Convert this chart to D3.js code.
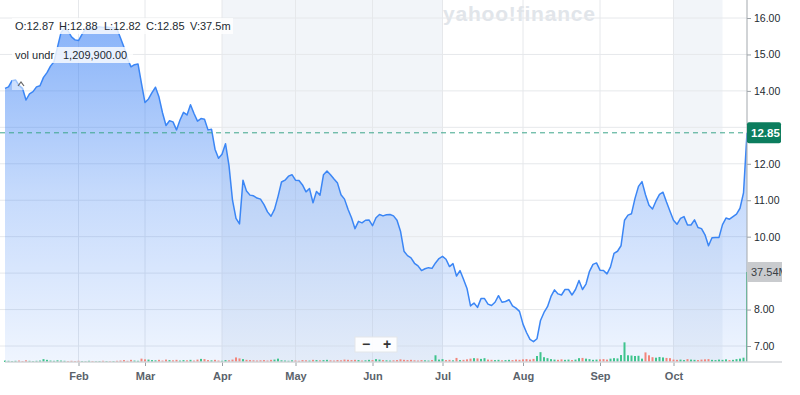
<!DOCTYPE html>
<html>
<head>
<meta charset="utf-8">
<style>
  body { margin: 0; background: #fff; }
  svg { display: block; font-family: "Helvetica Neue", Helvetica, Arial, "Liberation Sans", sans-serif; }
</style>
</head>
<body>
<div id="chart"></div>
<script src="https://cdn.jsdelivr.net/npm/d3@7/dist/d3.min.js"></script>
<script>
// daily closes, one per trading day
var closes = [
  14.07, 14.11, 14.28, 14.30, 14.15, 14.07, 13.75, 13.92, 13.98, 14.11,
  14.14, 14.37, 14.50, 14.68, 14.80, 15.20, 15.60, 15.73, 15.65, 15.48,
  15.40, 15.38, 15.55, 15.70, 15.74, 15.68, 15.74, 15.76, 15.74, 15.75,
  15.74, 15.74, 15.70, 15.45, 15.20, 14.88, 14.66, 14.72, 14.74, 14.20,
  13.68, 13.78, 13.95, 14.10, 13.83, 13.40, 13.05, 13.18, 13.15, 12.93,
  13.20, 13.41, 13.34, 13.62, 13.38, 13.17, 13.24, 13.22, 12.93, 12.95,
  12.40, 12.15, 12.26, 12.55, 11.95, 11.00, 10.50, 10.35, 11.55, 11.25,
  11.14, 11.12, 11.06, 11.03, 10.88, 10.68, 10.56, 10.75, 11.10, 11.50,
  11.55, 11.66, 11.70, 11.55, 11.54, 11.42, 11.23, 11.32, 10.93, 11.24,
  11.14, 11.70, 11.80, 11.70, 11.58, 11.47, 11.15, 11.03, 10.75, 10.52,
  10.22, 10.42, 10.38, 10.45, 10.46, 10.30, 10.52, 10.61, 10.57, 10.60,
  10.61, 10.57, 10.45, 10.15, 9.60, 9.48, 9.42, 9.27, 9.20, 9.07,
  9.12, 9.15, 9.13, 9.28, 9.40, 9.46, 9.38, 9.18, 9.26, 8.92,
  9.07, 8.83, 8.58, 8.10, 8.18, 8.06, 8.30, 8.30, 8.15, 8.11,
  8.20, 8.38, 8.20, 8.22, 8.27, 8.10, 8.04, 7.95, 7.60, 7.37,
  7.18, 7.12, 7.20, 7.70, 7.92, 8.08, 8.36, 8.54, 8.43, 8.40,
  8.55, 8.55, 8.40, 8.55, 8.80, 8.55, 8.70, 9.05, 9.24, 9.28,
  9.08, 9.07, 8.98, 9.17, 9.54, 9.60, 9.75, 10.45, 10.59, 10.63,
  11.05, 11.38, 11.51, 11.15, 10.86, 10.76, 10.98, 11.16, 11.22, 10.95,
  10.70, 10.45, 10.34, 10.50, 10.55, 10.32, 10.32, 10.46, 10.25, 10.22,
  10.05, 9.75, 9.97, 9.98, 9.98, 10.33, 10.51, 10.48, 10.55, 10.62,
  10.78, 11.20, 12.85
];

// daily volume, millions
var volumes = [
  0.6, 0.5, 0.4, 0.5, 0.6, 0.4, 0.7, 0.5, 0.4, 0.5,
  0.6, 1.2, 0.9, 0.6, 0.5, 0.7, 0.6, 0.5, 0.4, 0.5,
  0.4, 0.5, 0.4, 0.3, 0.5, 0.4, 0.3, 0.4, 0.5, 0.4,
  0.3, 0.4, 0.5, 0.6, 0.8, 0.5, 0.9, 0.6, 0.5, 1.4,
  1.1, 1.0, 0.8, 0.7, 0.9, 0.6, 1.0, 0.8, 0.7, 0.9,
  0.6, 0.8, 0.7, 0.9, 0.6, 1.0, 1.3, 1.2, 0.8, 0.7,
  0.9, 0.6, 0.5, 0.8, 0.7, 1.0, 1.9, 1.5, 1.2, 0.9,
  0.8, 0.7, 0.6, 0.7, 0.8, 0.6, 0.9, 1.0, 1.4, 0.7,
  0.6, 0.5, 0.7, 0.6, 0.5, 0.8, 0.7, 0.6, 0.9, 0.8,
  0.7, 0.8, 0.9, 0.7, 0.6, 0.8, 0.7, 1.0, 0.9, 0.8,
  0.9, 0.8, 0.6, 0.7, 0.9, 0.8, 1.2, 1.0, 0.8, 0.7,
  0.6, 0.7, 0.8, 1.1, 0.9, 0.8, 0.9, 0.7, 0.6, 0.8,
  0.7, 0.6, 0.8, 2.8, 1.0, 1.2, 0.8, 0.9, 0.7, 1.7,
  0.8, 0.9, 1.1, 1.4, 1.6, 1.5, 1.3, 1.6, 1.0, 0.9,
  0.8, 0.9, 0.7, 0.8, 0.9, 0.8, 1.0, 0.9, 1.1, 1.2,
  1.0, 1.3, 2.5, 4.1, 2.0, 1.6, 1.2, 1.0, 0.9, 1.1,
  0.9, 1.0, 0.8, 1.0, 1.6, 1.7, 1.4, 1.2, 0.9, 1.0,
  1.1, 1.2, 1.0, 1.4, 1.6, 1.5, 2.9, 8.2, 2.8, 2.7,
  2.5, 2.6, 1.4, 4.0, 2.8, 2.0, 1.8, 2.1, 1.9, 1.7,
  1.6, 1.0, 0.9, 1.0, 0.8, 1.2, 1.0, 0.9, 0.8, 1.0,
  1.1, 1.2, 0.9, 0.8, 1.0, 0.9, 1.1, 0.8, 0.9, 1.2,
  1.4, 1.8, 37.54
];

// first trading day (index) of each month shown on the axis
var monthLabels = ["Feb", "Mar", "Apr", "May", "Jun", "Jul", "Aug", "Sep", "Oct"];
var monthStartDay = [21, 40, 62, 83, 105, 125, 148, 170, 191];
var shadedDays = [[62, 125], [191, 205]];
var priceTicks = [7, 8, 9, 10, 11, 12, 13, 14, 15, 16];

var ohlcLabels = ["O:12.87", "H:12.88", "L:12.82", "C:12.85", "V:37.5m"];
var studyName = "vol undr", studyValue = "1,209,900.00";
var lastPrice = 12.85, lastVolumeLabel = "37.54M";

var width = 800, height = 395;
var plotRight = 747, plotBottom = 362;

var svg = d3.select("#chart").append("svg")
    .attr("width", width)
    .attr("height", height);

var x = d3.scaleLinear().domain([0, closes.length - 1]).range([5, plotRight]);
var y = d3.scaleLinear().domain([7, 16]).range([346, 18]);
var yVol = d3.scaleLinear().domain([0, d3.max(volumes)]).range([plotBottom, 272]);
var lastVol = volumes[volumes.length - 1];

var defs = svg.append("defs");
var grad = defs.append("linearGradient")
    .attr("id", "fill")
    .attr("gradientUnits", "userSpaceOnUse")
    .attr("x1", 0).attr("x2", 0).attr("y1", 18).attr("y2", plotBottom);
grad.append("stop").attr("offset", 0).attr("stop-color", "#3c82f5").attr("stop-opacity", 0.62);
grad.append("stop").attr("offset", 0.5).attr("stop-color", "#3c82f5").attr("stop-opacity", 0.3);
grad.append("stop").attr("offset", 1).attr("stop-color", "#3c82f5").attr("stop-opacity", 0.08);

defs.append("clipPath").attr("id", "plot")
  .append("rect").attr("x", 0).attr("y", 0).attr("width", plotRight).attr("height", plotBottom);
defs.append("clipPath").attr("id", "right")
  .append("rect").attr("x", 0).attr("y", 0).attr("width", 782).attr("height", height);

// shaded periods
svg.append("g").selectAll("rect").data(shadedDays).enter().append("rect")
    .attr("x", function(d) { return x(d[0]); })
    .attr("y", 0)
    .attr("width", function(d) { return x(d[1]) - x(d[0]); })
    .attr("height", plotBottom)
    .attr("fill", "#f2f5f9");

// watermark
svg.append("text")
    .attr("x", 443).attr("y", 21)
    .attr("textLength", 152)
    .attr("font-size", 21).attr("font-weight", "bold")
    .attr("fill", "#e1e5ea")
    .text("yahoo!finance");

// grid
var grid = svg.append("g");
grid.selectAll("line.h").data(priceTicks).enter().append("line")
    .attr("x1", 0).attr("x2", plotRight)
    .attr("y1", function(d) { return y(d); }).attr("y2", function(d) { return y(d); })
    .attr("stroke", "#e6e8eb");
grid.selectAll("line.v").data(monthStartDay).enter().append("line")
    .attr("x1", function(d) { return x(d); }).attr("x2", function(d) { return x(d); })
    .attr("y1", 0).attr("y2", plotBottom)
    .attr("stroke", "#e6e8eb");

var plot = svg.append("g").attr("clip-path", "url(#plot)");

var area = d3.area()
    .x(function(d, i) { return x(i); })
    .y0(plotBottom)
    .y1(function(d) { return y(d); });
plot.append("path").datum(closes).attr("d", area).attr("fill", "url(#fill)");

// volume bars
plot.append("g").selectAll("rect").data(volumes).enter().append("rect")
    .attr("x", function(d, i) { return x(i) - 1; })
    .attr("y", function(d) { return yVol(d); })
    .attr("width", 2)
    .attr("height", function(d) { return plotBottom - yVol(d); })
    .attr("fill", function(d, i) {
      return (i === 0 || closes[i] >= closes[i - 1]) ? "#3fc48d" : "#f2857b";
    });

var line = d3.line()
    .x(function(d, i) { return x(i); })
    .y(function(d) { return y(d); });
plot.append("path").datum(closes).attr("d", line)
    .attr("fill", "none").attr("stroke", "#3b86f5").attr("stroke-width", 1.5)
    .attr("stroke-linejoin", "round");

// last price line
svg.append("line")
    .attr("x1", 0).attr("x2", plotRight)
    .attr("y1", y(lastPrice)).attr("y2", y(lastPrice))
    .attr("stroke", "#3ca68b").attr("stroke-dasharray", "5,4");

// axes; labels that sit under the price / volume tags are hidden, as in the original
var tagYs = [y(lastPrice), yVol(lastVol)];
function underTag(v) {
  return tagYs.some(function(t) { return Math.abs(y(v) - t) < 14; });
}
var yAxis = svg.append("g")
    .attr("transform", "translate(" + plotRight + ",0)")
    .call(d3.axisRight(y).tickValues(priceTicks).tickSize(4).tickPadding(3)
      .tickFormat(function(v) { return underTag(v) ? "" : d3.format(".2f")(v); }));
yAxis.select(".domain").remove();
yAxis.selectAll("line").attr("stroke", "#9aa0a6");
yAxis.selectAll("text").attr("font-size", 10.5).attr("fill", "#232a31").attr("font-family", null);

svg.append("line")
    .attr("x1", plotRight).attr("x2", plotRight)
    .attr("y1", 0).attr("y2", plotBottom)
    .attr("stroke", "#a3a8ad");

var xAxis = svg.append("g")
    .attr("transform", "translate(0," + plotBottom + ")")
    .call(d3.axisBottom(x).tickValues(monthStartDay).tickSize(4).tickPadding(6)
      .tickFormat(function(d, i) { return monthLabels[i]; }));
xAxis.select(".domain").remove();
xAxis.selectAll("line").attr("stroke", "#9aa0a6");
xAxis.selectAll("text").attr("font-size", 11).attr("font-weight", "bold")
    .attr("fill", "#5b636b").attr("font-family", null);

svg.append("line")
    .attr("x1", 5).attr("x2", 782)
    .attr("y1", plotBottom).attr("y2", plotBottom)
    .attr("stroke", "#d3d6da").attr("stroke-width", 1.5);

// right side labels
var tags = svg.append("g").attr("clip-path", "url(#right)");
tags.append("rect")
    .attr("x", plotRight).attr("y", y(lastPrice) - 10.5)
    .attr("width", 34).attr("height", 21).attr("rx", 2)
    .attr("fill", "#0c7d5e");
tags.append("text")
    .attr("x", plotRight + 4).attr("y", y(lastPrice) + 4)
    .attr("font-size", 11.5).attr("font-weight", "bold").attr("fill", "#fff")
    .text(d3.format(".2f")(lastPrice));

tags.append("rect")
    .attr("x", plotRight).attr("y", yVol(lastVol) - 10)
    .attr("width", 40).attr("height", 20)
    .attr("fill", "#c9cbce");
tags.append("text")
    .attr("x", plotRight + 4).attr("y", yVol(lastVol) + 4)
    .attr("font-size", 11).attr("fill", "#3a3f45")
    .text(lastVolumeLabel);

// legend boxes
var ohlcX = [15, 59, 104, 146, 190];
svg.append("rect").attr("x", 12).attr("y", 18).attr("width", 221).attr("height", 16)
    .attr("fill", "#fff").attr("fill-opacity", 0.8);
svg.append("g").selectAll("text").data(ohlcLabels).enter().append("text")
    .attr("x", function(d, i) { return ohlcX[i]; })
    .attr("y", 30)
    .attr("font-size", 11).attr("fill", "#232a31")
    .text(function(d) { return d; });

svg.append("rect").attr("x", 12).attr("y", 47).attr("width", 121).attr("height", 16)
    .attr("fill", "#fff").attr("fill-opacity", 0.8);
svg.append("text").attr("x", 15).attr("y", 59).attr("font-size", 11).attr("fill", "#232a31").text(studyName);
svg.append("text").attr("x", 63).attr("y", 59).attr("font-size", 11).attr("fill", "#232a31").text(studyValue);

// small collapse marker
svg.append("rect").attr("x", 12).attr("y", 78).attr("width", 12).attr("height", 12)
    .attr("fill", "#fff").attr("fill-opacity", 0.5);
svg.append("path").attr("d", "M18,86 L21,82 L24,86")
    .attr("fill", "none").attr("stroke", "#666").attr("stroke-width", 1.2);

// zoom control
var zc = svg.append("g");
zc.append("rect").attr("x", 355).attr("y", 337).attr("width", 42).attr("height", 15)
    .attr("fill", "#fff").attr("fill-opacity", 0.9).attr("stroke", "#e3e6e9");
zc.append("text").attr("x", 366).attr("y", 349).attr("text-anchor", "middle")
    .attr("font-size", 14).attr("font-weight", "bold").attr("fill", "#333").text("\u2212");
zc.append("text").attr("x", 387).attr("y", 349).attr("text-anchor", "middle")
    .attr("font-size", 14).attr("font-weight", "bold").attr("fill", "#333").text("+");
</script>
</body>
</html>
